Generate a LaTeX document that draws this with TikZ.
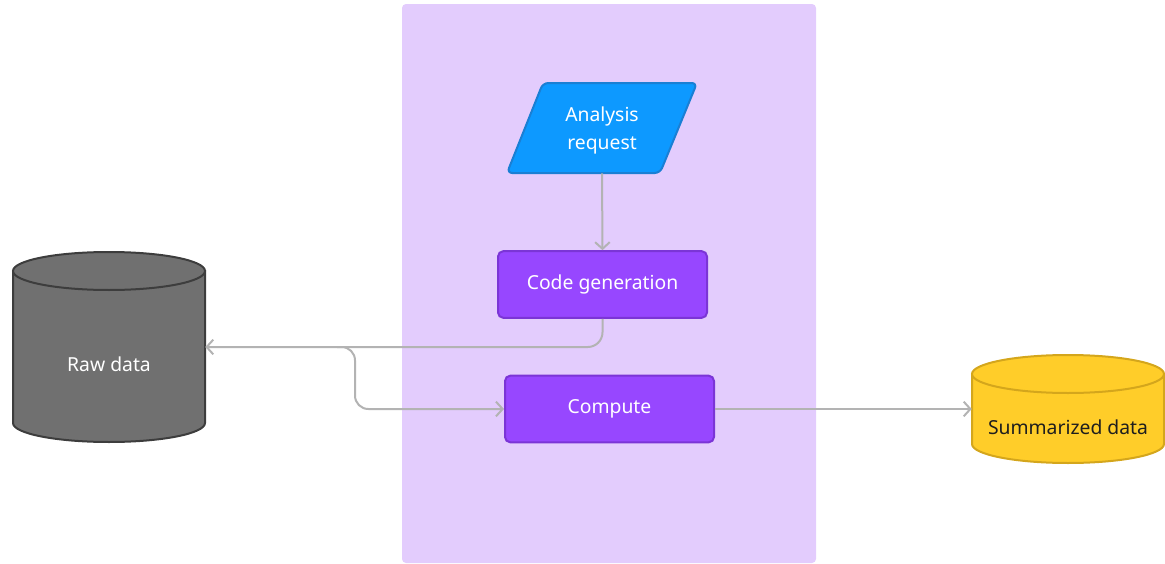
\documentclass[tikz,border=0pt]{standalone}
\usepackage{fontspec}
\setmainfont{Noto Sans}
\usetikzlibrary{arrows.meta}

\definecolor{panelfill}{HTML}{E3CCFD}
\definecolor{procfill}{HTML}{9747FF}
\definecolor{procedge}{HTML}{7B35D6}
\definecolor{ioflfill}{HTML}{0D99FF}
\definecolor{iofledge}{HTML}{1A7FD4}
\definecolor{rawfill}{HTML}{707070}
\definecolor{rawedge}{HTML}{3D3D3D}
\definecolor{sumfill}{HTML}{FFCD29}
\definecolor{sumedge}{HTML}{D4A61C}
\definecolor{linegrey}{HTML}{B3B3B3}
\definecolor{darktext}{HTML}{1E1E1E}

\begin{document}
\begin{tikzpicture}[x=0.75pt,y=-0.75pt,
  label font/.style={font=\fontsize{14.5}{21}\selectfont},
  proc/.style={draw=procedge, fill=procfill, line width=1.5pt, rounded corners=4pt,
    minimum width=156.75pt, minimum height=50pt, inner sep=0pt, text=white, label font},
  holder/.style={inner sep=0pt},
  flow/.style={draw=linegrey, line width=1.5pt, -{Straight Barb[length=5pt,width=11pt]}},
  cylbody/.style={line width=1.5pt},
]
\useasboundingbox (0,0) rectangle (1165,564);

% background lane
\fill[panelfill, rounded corners=3pt] (402,4) rectangle (816,563);

% input parallelogram
\filldraw[fill=ioflfill, draw=iofledge, line width=1.5pt, rounded corners=4pt]
  (543,83) -- (697,83) -- (660,173) -- (507,173) -- cycle;
\node[holder, minimum width=112.5pt, minimum height=67.5pt] (req) at (602,128) {};
\node[align=center, text=white, label font] (reqtext) at (602,130) {Analysis\\request};

% process steps
\node[proc] (code) at (602.5,284.5) {Code generation};
\node[proc] (compute) at (609.5,409) {Compute};

% raw data store
\filldraw[cylbody, fill=rawfill, draw=rawedge]
  (13,271) -- (13,423) arc[start angle=180, end angle=360, x radius=72pt, y radius=14.25pt]
  -- (205,271) -- cycle;
\filldraw[cylbody, fill=rawfill, draw=rawedge]
  (109,271) ellipse[x radius=72pt, y radius=14.25pt];
\node[holder, minimum width=144pt, minimum height=114pt] (raw) at (109,347) {};
\node[text=white, label font] (rawtext) at (109,364) {Raw data};

% summarized data store
\filldraw[cylbody, fill=sumfill, draw=sumedge]
  (972,374) -- (972,444) arc[start angle=180, end angle=360, x radius=72pt, y radius=14.25pt]
  -- (1164,374) -- cycle;
\filldraw[cylbody, fill=sumfill, draw=sumedge]
  (1068,374) ellipse[x radius=72pt, y radius=14.25pt];
\node[holder, minimum width=144pt, minimum height=52.5pt] (sum) at (1068,409) {};
\node[text=darktext, label font] (sumtext) at (1068,427) {Summarized data};

% connectors
\draw[flow] (req.south) -- (code.north);
\draw[flow, rounded corners=11pt] (code.south) |- (raw.east);
\coordinate (split) at (337,347);
\draw[flow, rounded corners=10pt] (split) -- (355,347) -- (355,409) -- (compute.west);
\draw[flow] (compute.east) -- (sum.west);
\end{tikzpicture}
\end{document}
